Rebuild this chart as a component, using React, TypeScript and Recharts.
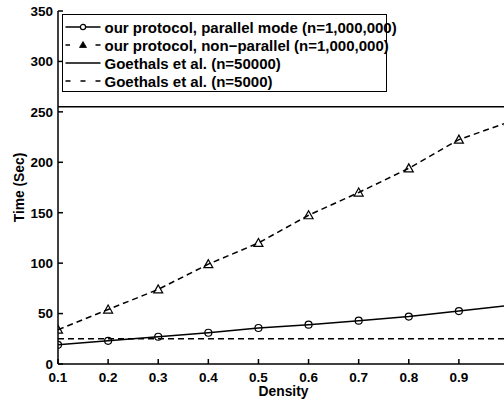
import { Legend, Line, LineChart, XAxis, YAxis, Label } from "recharts";

const density = [0.1, 0.2, 0.3, 0.4, 0.5, 0.6, 0.7, 0.8, 0.9, 1.0];
const parallelTime = [19, 23, 27, 31, 35.7, 39, 43, 47, 52.5, 58];
const nonParallelTime = [34, 54, 74, 99, 120, 147.5, 170, 194, 222.5, 240];
const goethals50000 = [255, 255, 255, 255, 255, 255, 255, 255, 255, 255];
const goethals5000 = [25, 25, 25, 25, 25, 25, 25, 25, 25, 25];

const xTicks = [0.1, 0.2, 0.3, 0.4, 0.5, 0.6, 0.7, 0.8, 0.9];
const yTicks = [0, 50, 100, 150, 200, 250, 300, 350];

const seriesNames = [
    "our protocol, parallel mode (n=1,000,000)",
    "our protocol, non\u2212parallel (n=1,000,000)",
    "Goethals et al. (n=50000)",
    "Goethals et al. (n=5000)",
];

const data = density.map((d, i) => ({
    density: d,
    parallel: parallelTime[i],
    nonParallel: nonParallelTime[i],
    g50000: goethals50000[i],
    g5000: goethals5000[i],
}));

const FONT = "'Liberation Sans', Arial, Helvetica, sans-serif";
const tickStyle = { fontSize: 13.5, fontWeight: "bold", fill: "#000", fontFamily: FONT };

function Circle({ cx, cy }: any) {
    if (cx == null || cy == null) return <g />;
    return <circle cx={cx} cy={cy} r={3.5} fill="none" stroke="#000" strokeWidth={1.2} />;
}

function Triangle({ cx, cy }: any) {
    if (cx == null || cy == null) return <g />;
    const pts = `${cx},${cy - 4.5} ${cx - 4.5},${cy + 3.5} ${cx + 4.5},${cy + 3.5}`;
    return <polygon points={pts} fill="none" stroke="#000" strokeWidth={1.2} />;
}

// little line samples drawn like the matlab legend
function Sample({ i }: { i: number }) {
    return (
        <svg width={41.5} height={12} style={{ flex: "none" }}>
            {i === 0 && (
                <>
                    <line x1={2.5} x2={37.5} y1={6} y2={6} stroke="#000" strokeWidth={1.5} />
                    <circle cx={20} cy={6} r={2.6} fill="#fff" stroke="#000" strokeWidth={1.2} />
                </>
            )}
            {i === 1 && (
                <>
                    <line x1={2.5} x2={7} y1={6} y2={6} stroke="#000" strokeWidth={1.5} />
                    <polygon points="20,2.5 16.5,8.5 23.5,8.5" fill="#000" stroke="#000" strokeWidth={0.8} />
                    <line x1={32.5} x2={37.5} y1={6} y2={6} stroke="#000" strokeWidth={1.5} />
                </>
            )}
            {i === 2 && <line x1={2.5} x2={37.5} y1={6} y2={6} stroke="#000" strokeWidth={1.5} />}
            {i === 3 && (
                <line x1={2.5} x2={37.5} y1={6} y2={6} stroke="#000" strokeWidth={1.5} strokeDasharray="5 10" />
            )}
        </svg>
    );
}

function LegendBox() {
    return (
        <div
            style={{
                border: "1.5px solid #000",
                background: "#fff",
                width: 323,
                height: 73,
                boxSizing: "content-box",
                padding: "3px 0 0 0",
                fontFamily: FONT,
                fontWeight: "bold",
                fontSize: 15,
                color: "#000",
            }}
        >
            {seriesNames.map((name, i) => (
                <div key={name} style={{ display: "flex", alignItems: "center", height: 18, whiteSpace: "nowrap" }}>
                    <Sample i={i} />
                    <span>{name}</span>
                </div>
            ))}
        </div>
    );
}

export default function App() {
    return (
        <div
            style={{
                position: "fixed",
                left: 0,
                top: 0,
                width: 504,
                height: 400,
                overflow: "hidden",
                background: "#fff",
                fontFamily: FONT,
            }}
        >
            <LineChart width={512} height={400} data={data} margin={{ top: 11, right: 3, left: 0, bottom: 0 }}>
                <XAxis
                    xAxisId="top"
                    orientation="top"
                    dataKey="density"
                    type="number"
                    domain={[0.1, 1.0]}
                    ticks={xTicks}
                    height={0}
                    tickSize={-5}
                    tickFormatter={() => ""}
                    stroke="#000"
                    strokeWidth={1.5}
                />
                <XAxis
                    dataKey="density"
                    type="number"
                    domain={[0.1, 1.0]}
                    ticks={xTicks}
                    height={36}
                    tickSize={-5}
                    tickMargin={13}
                    tick={tickStyle}
                    tickFormatter={(v) => Number(v).toFixed(1)}
                    stroke="#000"
                    strokeWidth={1.5}
                    interval={0}
                    allowDataOverflow
                >
                    <Label
                        content={({ viewBox }: any) => (
                            <text
                                x={viewBox.x + viewBox.width / 2}
                                y={396}
                                textAnchor="middle"
                                fontFamily={FONT}
                                fontWeight="bold"
                                fontSize={13.8}
                                fill="#000"
                            >
                                Density
                            </text>
                        )}
                    />
                </XAxis>
                <YAxis
                    type="number"
                    domain={[0, 350]}
                    ticks={yTicks}
                    width={58}
                    tickSize={-5}
                    tickMargin={10}
                    tick={tickStyle}
                    stroke="#000"
                    strokeWidth={1.5}
                    interval={0}
                >
                    <Label
                        content={({ viewBox }: any) => {
                            const cy = viewBox.y + viewBox.height / 2;
                            return (
                                <text
                                    x={19}
                                    y={cy}
                                    transform={`rotate(-90 19 ${cy})`}
                                    textAnchor="middle"
                                    dominantBaseline="central"
                                    fontFamily={FONT}
                                    fontWeight="bold"
                                    fontSize={13.8}
                                    fill="#000"
                                >
                                    Time (Sec)
                                </text>
                            );
                        }}
                    />
                </YAxis>
                <Line
                    dataKey="g50000"
                    stroke="#000"
                    strokeWidth={1.5}
                    dot={false}
                    isAnimationActive={false}
                />
                <Line
                    dataKey="g5000"
                    stroke="#000"
                    strokeWidth={1.5}
                    strokeDasharray="6 4"
                    dot={false}
                    isAnimationActive={false}
                />
                <Line
                    dataKey="nonParallel"
                    stroke="#000"
                    strokeWidth={1.5}
                    strokeDasharray="6 4"
                    dot={Triangle}
                    isAnimationActive={false}
                />
                <Line
                    dataKey="parallel"
                    stroke="#000"
                    strokeWidth={1.5}
                    dot={Circle}
                    isAnimationActive={false}
                />
                <Legend
                    layout="horizontal"
                    verticalAlign="middle"
                    align="center"
                    content={() => <LegendBox />}
                    wrapperStyle={{ top: 14, left: 62, width: "auto" }}
                />
            </LineChart>
        </div>
    );
}
